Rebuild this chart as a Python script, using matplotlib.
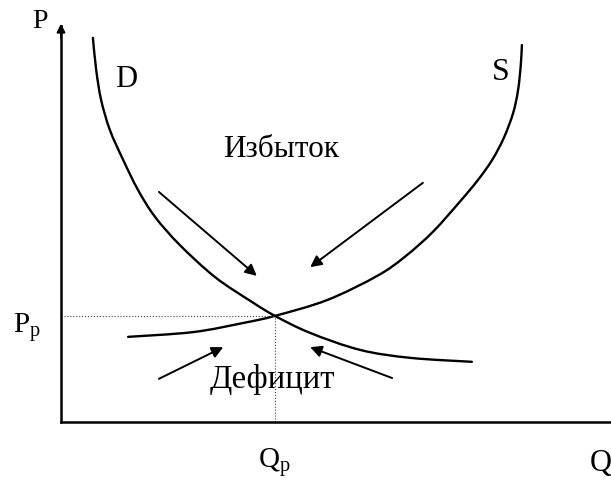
import matplotlib.pyplot as plt
from matplotlib.path import Path
from matplotlib.patches import PathPatch

plt.rcParams["font.family"] = ["Liberation Serif", "DejaVu Serif"]
plt.rcParams["mathtext.fontset"] = "custom"
plt.rcParams["mathtext.rm"] = "Liberation Serif"
plt.rcParams["mathtext.it"] = "Liberation Serif:italic"

# demand / supply curves (Q, P on a 0..100 scale)
demand_q = [5.8, 6.4, 7.3, 8.9, 11.3, 14.0, 17.1, 21.6, 28.0, 34.4, 38.9,
            45.3, 54.4, 63.5, 74.7]
demand_p = [97.0, 88.9, 81.3, 73.7, 66.2, 58.6, 51.8, 44.7, 36.6, 30.6, 26.8,
            22.5, 18.2, 16.2, 15.2]
supply_q = [12.2, 24.0, 33.1, 38.9, 48.4, 57.5, 62.5, 67.6, 72.5, 75.8, 78.4,
            80.5, 82.2, 83.1, 83.6, 83.8]
supply_p = [21.5, 22.7, 25.0, 26.8, 30.8, 36.9, 41.7, 48.0, 55.6, 61.1, 66.2,
            71.7, 78.0, 83.8, 90.2, 95.2]

eq_q, eq_p = 38.9, 26.8

# arrows: (start Q, start P, end Q, end P)
excess_arrows = [(17.8, 58.1, 35.6, 36.9), (65.8, 60.4, 45.3, 39.1)]
deficit_arrows = [(17.8, 10.9, 29.5, 18.9), (60.2, 11.1, 45.3, 18.9)]


def smooth_path(ax, xs, ys):
    # catmull-rom style cubic bezier through the points, done in display space
    pts = ax.transData.transform(list(zip(xs, ys)))
    n = len(pts)
    verts = [pts[0]]
    codes = [Path.MOVETO]
    for i in range(n - 1):
        p0 = pts[i - 1] if i > 0 else pts[i]
        p1, p2 = pts[i], pts[i + 1]
        p3 = pts[i + 2] if i + 2 < n else pts[i + 1]
        c1 = p1 + (p2 - p0) / 6
        c2 = p2 - (p3 - p1) / 6
        verts += [c1, c2, p2]
        codes += [Path.CURVE4] * 3
    return Path(ax.transData.inverted().transform(verts), codes)


fig = plt.figure(figsize=(6.11, 4.84), dpi=100)
ax = fig.add_axes([61 / 611, 62 / 484, 550 / 611, 396 / 484])
ax.set_xlim(0, 100)
ax.set_ylim(0, 100)
for side in ["top", "right"]:
    ax.spines[side].set_visible(False)
for side in ["left", "bottom"]:
    ax.spines[side].set_linewidth(1.8)
ax.set_xticks([])
ax.set_yticks([])

# P axis arrow head
ax.annotate("", xy=(0, 100.6), xytext=(0, 97),
            arrowprops=dict(arrowstyle="-|>", color="black", lw=1.5,
                            mutation_scale=12, shrinkA=0, shrinkB=0),
            annotation_clip=False)

for xs, ys in [(demand_q, demand_p), (supply_q, supply_p)]:
    ax.add_patch(PathPatch(smooth_path(ax, xs, ys), fill=False,
                           edgecolor="black", lw=1.7, capstyle="round"))

ax.plot([0, eq_q], [eq_p, eq_p], color="#444444", lw=0.8, ls=":")
ax.plot([eq_q, eq_q], [0, eq_p], color="#444444", lw=0.8, ls=":")

for x0, y0, x1, y1 in excess_arrows + deficit_arrows:
    ax.annotate("", xy=(x1, y1), xytext=(x0, y0),
                arrowprops=dict(arrowstyle="-|>", color="black", lw=1.4,
                                mutation_scale=17, shrinkA=0, shrinkB=0))

ax.text(29.5, 66.9, "Избыток", fontsize=22.5, ha="left", va="baseline")
ax.text(27.1, 8.6, "Дефицит", fontsize=23.5, ha="left", va="baseline")
ax.text(9.8, 84.6, "D", fontsize=22, ha="left", va="baseline")
ax.text(78.4, 86.4, "S", fontsize=23, ha="left", va="baseline")
ax.text(-5.3, 99.5, "P", fontsize=20, ha="left", va="baseline", clip_on=False)
ax.text(-8.7, 22.5, r"P$_\mathrm{р}$", fontsize=21, ha="left", va="baseline",
        clip_on=False)
ax.text(35.8, -11.6, r"Q$_\mathrm{р}$", fontsize=21, ha="left", va="baseline",
        clip_on=False)
ax.text(96.2, -12.4, "Q", fontsize=22, ha="left", va="baseline", clip_on=False)

fig.savefig("out.png", dpi=100)
